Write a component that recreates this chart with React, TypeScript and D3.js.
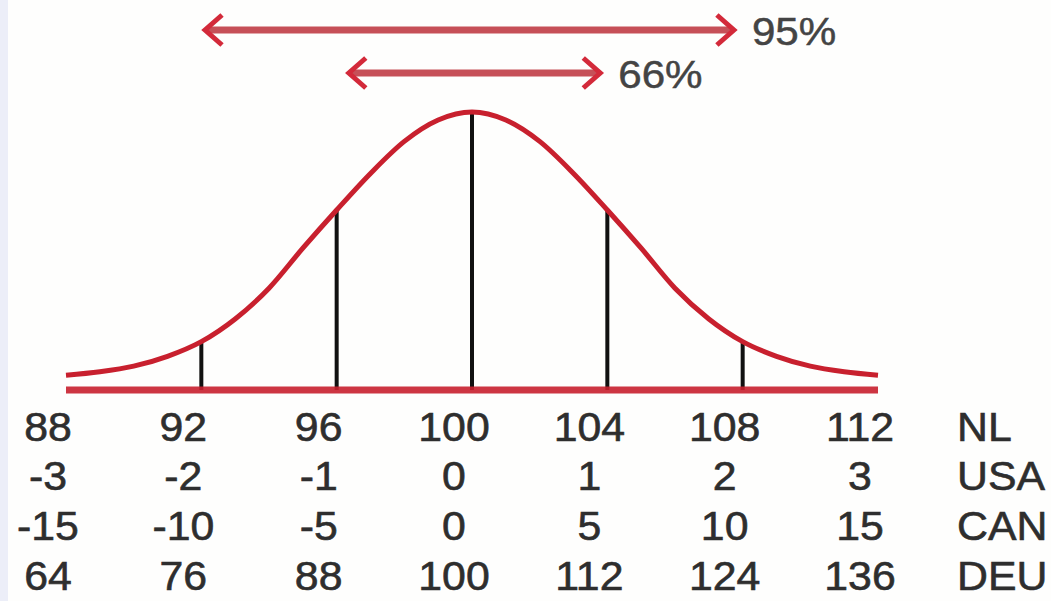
import React from "react";
import * as d3 from "d3";

const width = 1051;
const height = 601;

// scale positions (NL units, mean 100, sd 4)
const nlTicks = [88, 92, 96, 100, 104, 108, 112];
const usaTicks = ["-3", "-2", "-1", "0", "1", "2", "3"];
const canTicks = ["-15", "-10", "-5", "0", "5", "10", "15"];
const deuTicks = ["64", "76", "88", "100", "112", "124", "136"];
const rowNames = ["NL", "USA", "CAN", "DEU"];

// bell curve: x in NL units, height relative to the peak
const curveX = [88, 89, 90, 91, 92, 93, 94, 95, 96, 97, 98, 99, 100, 101, 102, 103, 104, 105, 106, 107, 108, 109, 110, 111, 112];
const curveH = [0.014, 0.027, 0.048, 0.085, 0.14, 0.225, 0.34, 0.49, 0.633, 0.77, 0.89, 0.97, 1, 0.97, 0.89, 0.77, 0.633, 0.49, 0.34, 0.225, 0.14, 0.085, 0.048, 0.027, 0.014];

// vertical markers
const markers = [92, 96, 100, 104, 108];

// range arrows
const arrowLabels = ["95%", "66%"];
const arrowFrom = [92.05, 96.3];
const arrowTo = [107.8, 103.85];

const red = "#c8202e";
const textColor = "#2e2e2e";
const font = "'Liberation Sans', Arial, Helvetica, sans-serif";

const margin = { left: 66, right: 173, top: 112, base: 379 };

export default function App() {
  const x = d3.scaleLinear().domain([88, 112]).range([margin.left, width - margin.right]);
  const y = d3.scaleLinear().domain([0, 1]).range([margin.base, margin.top]);
  const baseY = y(0) + 11;

  const pts = curveX.map((v, i) => [v, curveH[i]] as [number, number]);
  const line = d3
    .line<[number, number]>()
    .x((d) => x(d[0]))
    .y((d) => y(d[1]))
    .curve(d3.curveMonotoneX);

  const heightAt = (v: number) => curveH[curveX.indexOf(v)];

  const rows = [nlTicks.map(String), usaTicks, canTicks, deuTicks];
  const rowBase = [441, 490, 540, 590];
  const arrowY = [30, 73];

  return (
    <svg
      width={width}
      height={height}
      style={{ position: "absolute", left: 0, top: 0, background: "#fefefd" }}
    >
      <rect x={0} y={0} width={8} height={height} fill="#eceef8" />

      {/* arrows */}
      {arrowLabels.map((lab, i) => {
        const x0 = x(arrowFrom[i]);
        const x1 = x(arrowTo[i]);
        const yy = arrowY[i];
        return (
          <g key={lab}>
            <line x1={x0 + 3} x2={x1 - 3} y1={yy} y2={yy} stroke="#c65058" strokeWidth={7} />
            <path
              d={`M${x0 + 19},${yy - 15} L${x0 + 2},${yy} L${x0 + 19},${yy + 15}`}
              fill="none"
              stroke="#d32a3a"
              strokeWidth={5}
            />
            <path
              d={`M${x1 - 19},${yy - 15} L${x1 - 2},${yy} L${x1 - 19},${yy + 15}`}
              fill="none"
              stroke="#d32a3a"
              strokeWidth={5}
            />
            <text
              transform={`translate(${x1 + 16},${yy + 15}) scale(1.08,1)`}
              fontFamily={font}
              fontSize={39}
              fill="#444"
              stroke="#444"
              strokeWidth={0.5}
            >
              {lab}
            </text>
          </g>
        );
      })}

      {/* markers */}
      {markers.map((m) => (
        <line
          key={m}
          x1={x(m)}
          x2={x(m)}
          y1={baseY}
          y2={y(heightAt(m))}
          stroke="#111"
          strokeWidth={4}
        />
      ))}

      {/* baseline */}
      <line x1={x(88)} x2={x(112)} y1={baseY} y2={baseY} stroke={red} strokeWidth={7} opacity={0.9} />

      {/* curve */}
      <path d={line(pts) || ""} fill="none" stroke={red} strokeWidth={5} />

      {/* label rows */}
      {rows.map((vals, r) => (
        <g
          key={rowNames[r]}
          fontFamily={font}
          fontSize={40}
          fill={textColor}
          stroke={textColor}
          strokeWidth={0.6}
        >
          {vals.map((v, i) => (
            <text
              key={i}
              transform={`translate(${x(nlTicks[i]) - 18},${rowBase[r]}) scale(1.07,1)`}
              textAnchor="middle"
            >
              {v}
            </text>
          ))}
          <text transform={`translate(957,${rowBase[r]}) scale(1.07,1)`}>{rowNames[r]}</text>
        </g>
      ))}
    </svg>
  );
}
